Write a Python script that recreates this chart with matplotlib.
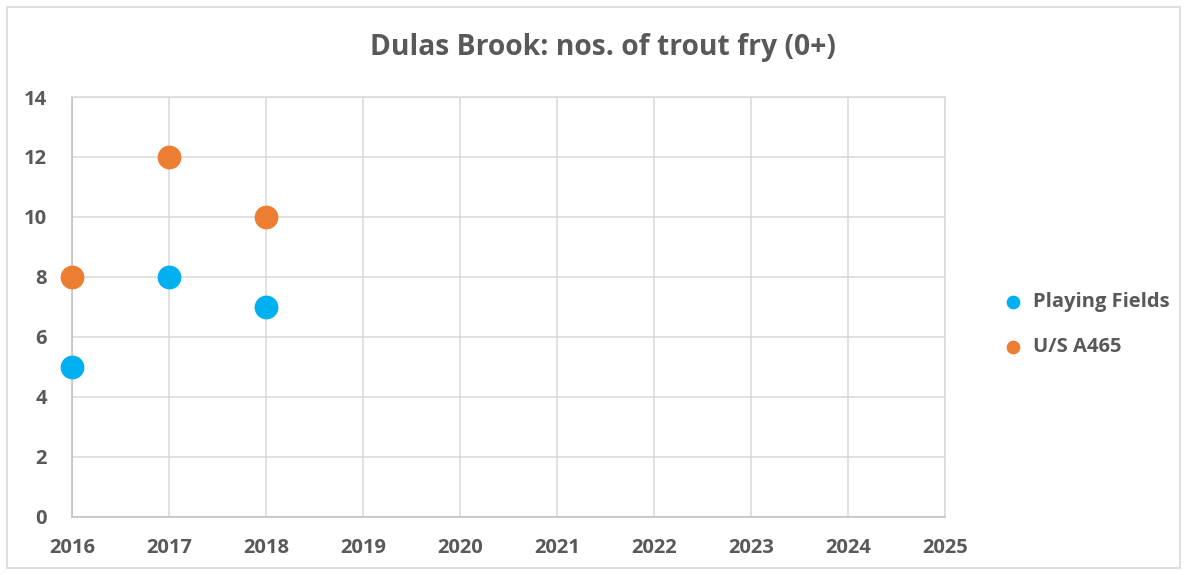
import matplotlib.pyplot as plt
from matplotlib.patches import Rectangle

# survey years and fry counts per site
years = [2016, 2017, 2018]
playing_fields = [5, 8, 7]
us_a465 = [8, 12, 10]
year_ticks = list(range(2016, 2026))
count_ticks = list(range(0, 15, 2))

plt.rcParams['font.family'] = ['Open Sans', 'DejaVu Sans']
text_grey = '#595959'
grid_grey = '#d9d9d9'

fig = plt.figure(figsize=(11.89, 5.75), dpi=100)
ax = fig.add_axes([0.0606, 0.1009, 0.7342, 0.7304])

# light frame round the whole chart
fig.patches.append(Rectangle((7 / 1189, 7 / 575), 1173 / 1189, 561 / 575,
                             transform=fig.transFigure, fill=False,
                             edgecolor='#d9d9d9', linewidth=1.2))

ax.scatter(years, playing_fields, s=260, color='#00B0F0', label='Playing Fields',
           zorder=3, clip_on=False)
ax.scatter(years, us_a465, s=260, color='#ED7D31', label='U/S A465',
           zorder=3, clip_on=False)

ax.set_xlim(2016, 2025)
ax.set_ylim(0, 14)
ax.set_xticks(year_ticks)
ax.set_yticks(count_ticks)
ax.grid(True, color=grid_grey, linewidth=1.1)
ax.set_axisbelow(True)
for side in ['top', 'right', 'left', 'bottom']:
    ax.spines[side].set_color(grid_grey)
    ax.spines[side].set_linewidth(1.1)
ax.spines['left'].set_color('#bfbfbf')
ax.spines['bottom'].set_color('#bfbfbf')
ax.tick_params(axis='x', length=0, labelsize=14.5, labelcolor=text_grey, pad=15)
ax.tick_params(axis='y', length=0, labelsize=14.5, labelcolor=text_grey, pad=18)
for lbl in ax.get_xticklabels() + ax.get_yticklabels():
    lbl.set_fontweight('bold')

fig.text(0.507, 0.918, 'Dulas Brook: nos. of trout fry (0+)', ha='center', va='center',
         fontsize=20.3, fontweight='bold', color=text_grey)

fig.legend(loc='center left', bbox_to_anchor=(0.82, 0.435), frameon=False,
           handletextpad=0.0, labelspacing=1.25, markerscale=0.55,
           prop={'size': 14.5, 'weight': 'bold'}, labelcolor=text_grey)

fig.savefig('out.png', dpi=100)
